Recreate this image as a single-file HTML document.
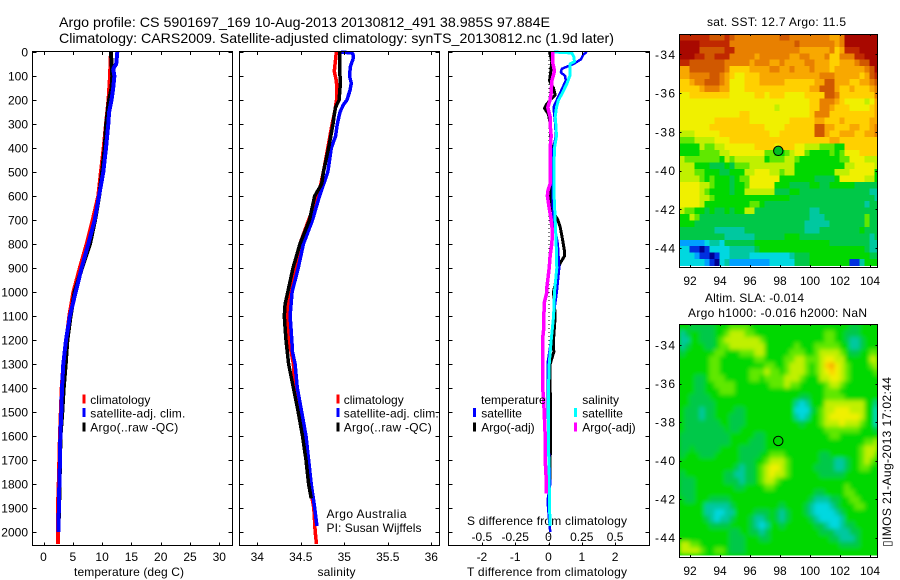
<!DOCTYPE html>
<html lang="en">
<head>
<meta charset="utf-8">
<title>Argo profile 5901697_169</title>
<style>
html,body{margin:0;padding:0;background:#fff;width:900px;height:580px;overflow:hidden}
svg{display:block}
text{font-family:"Liberation Sans",Arial,sans-serif;font-size:12px;fill:#000}
.title{font-size:14px}
.axis-box{fill:none;stroke:#000;stroke-width:1;shape-rendering:crispEdges}
.tick{stroke:#000;stroke-width:1;shape-rendering:crispEdges}
.prof{fill:none;stroke-linejoin:bevel;stroke-linecap:butt;shape-rendering:crispEdges}
.cell{shape-rendering:crispEdges}
</style>
</head>
<body>
<svg id="chart" xmlns="http://www.w3.org/2000/svg" width="900" height="580" viewBox="0 0 900 580">
  <defs>
    <filter id="smooth" x="-5%" y="-5%" width="110%" height="110%"><feGaussianBlur stdDeviation="2.2"/></filter>
    <clipPath id="slaClip"><rect x="679.5" y="324.5" width="198" height="231"/></clipPath>
  </defs>
  <text class="title" x="59" y="27" textLength="491" lengthAdjust="spacingAndGlyphs">Argo profile: CS 5901697_169 10-Aug-2013 20130812_491 38.985S 97.884E</text>
  <text class="title" x="59" y="43" textLength="555" lengthAdjust="spacingAndGlyphs">Climatology: CARS2009. Satellite-adjusted climatology: synTS_20130812.nc (1.9d later)</text>

  <text x="74" y="576" textLength="110">temperature (deg C)</text>
  <text x="317.5" y="576" textLength="38">salinity</text>
  <text x="467" y="576" textLength="160">T difference from climatology</text>
  <text x="467" y="525" textLength="160">S difference from climatology</text>

  <text x="326.5" y="518" textLength="80">Argo Australia</text>
  <text x="326.5" y="532" textLength="95">PI: Susan Wijffels</text>

  <text x="707" y="26" textLength="139">sat. SST: 12.7 Argo: 11.5</text>
  <text x="705" y="302" textLength="99">Altim. SLA: -0.014</text>
  <text x="688" y="317" textLength="179">Argo h1000: -0.016 h2000: NaN</text>
  <text transform="translate(891,547) rotate(-90)" textLength="170">▯IMOS 21-Aug-2013 17:02:44</text>
</svg>
<script>
// ---------- axis tick labels ----------
const depthTicks = [0,100,200,300,400,500,600,700,800,900,1000,1100,1200,1300,1400,1500,1600,1700,1800,1900,2000];
const tempTicks = [0,5,10,15,20,25,30];
const salTicks = [34,34.5,35,35.5,36];
const salTickLabels = ['34','34.5','35','35.5','36'];
const tDiffTicks = [-2,-1,0,1,2];
const sDiffTicks = [-0.5,-0.25,0,0.25,0.5];
const sDiffTickLabels = ['-0.5','-0.25','0','0.25','0.5'];
const lonTicks = [92,94,96,98,100,102,104];
const latTicks = [-34,-36,-38,-40,-42,-44];

// ---------- temperature panel ----------
const climTempDepth = [0,100,200,300,400,500,600,700,800,900,1000,1100,1200,1300,1400,1500,1600,1700,1800,1900,2000,2050];
const climTempValue = [11.5,11.35,11.1,10.66,10.27,9.8,9.35,8.4,7.37,6.2,5.1,4.4,3.9,3.4,3.1,2.95,2.8,2.7,2.6,2.45,2.5,2.5];
const satTempDepth = [0,50,70,100,150,200,250,300,400,500,600,700,800,900,1000,1100,1200,1300,1400,1500,1600,1700,1800,1900,1950,2000];
const satTempValue = [12.6,12.4,11.9,12.1,11.9,11.6,11.2,11.06,10.66,10.2,9.47,8.73,7.65,6.5,5.5,4.5,3.84,3.38,3.16,3.04,2.87,2.82,2.7,2.65,2.55,2.53];
const argoTempDepth = [0,100,150,200,300,400,500,600,700,800,900,1000,1100,1200,1300,1400,1500,1600,1900,1950];
const argoTempValue = [11.5,11.74,11.6,11.18,10.7,10.44,10.0,9.5,8.8,7.93,6.57,5.3,4.63,4.07,3.78,3.44,3.2,2.9,2.66,2.6];

// ---------- salinity panel ----------
const climSalDepth = [0,30,80,120,150,200,250,300,400,500,600,700,800,900,1000,1100,1200,1250,1300,1400,1500,1600,1700,1800,1900,2000,2050];
const climSalValue = [34.908,34.9,34.885,34.908,34.915,34.91,34.89,34.86,34.81,34.76,34.70,34.59,34.49,34.43,34.36,34.35,34.36,34.39,34.415,34.43,34.47,34.54,34.57,34.6,34.65,34.665,34.68];
const satSalDepth = [0,4,10,30,60,100,130,160,200,220,250,300,350,400,500,600,700,800,900,1000,1100,1200,1250,1300,1400,1500,1600,1700,1800,1900,1975];
const satSalValue = [34.96,35.09,35.1,35.1,35.07,35.06,35.08,35.065,35.03,34.99,34.95,34.92,34.9,34.85,34.81,34.715,34.635,34.53,34.47,34.40,34.377,34.396,34.405,34.435,34.46,34.51,34.56,34.59,34.62,34.66,34.685];
const argoSalDepth = [0,20,100,150,200,230,260,300,400,500,550,600,700,800,900,1000,1050,1100,1150,1200,1300,1400,1500,1600,1700,1800,1860];
const argoSalValue = [34.946,34.946,34.95,34.95,34.94,34.9,34.885,34.87,34.82,34.76,34.74,34.66,34.6,34.49,34.41,34.35,34.32,34.31,34.32,34.33,34.36,34.415,34.47,34.52,34.56,34.59,34.62];

// ---------- difference panel (T in deg C, S in psu) ----------
const satTDiffDepth = [0,10,30,50,70,85,100,120,140,170,200,230,300,350,400,500,600,700,800,900,1000,1100,1200,1300,1400,1500,1600,1700,1800,1870,1950,2000];
const satTDiffValue = [1.15,1.05,0.98,0.75,0.4,0.37,0.5,0.52,0.45,0.35,0.25,0.15,0.2,0.22,0.15,0.12,0.12,0.15,0.28,0.32,0.25,0.15,0.08,-0.03,-0.03,-0.02,0,0.02,0.05,-0.03,0.02,0.05];
const argoTDiffDepth = [0,10,40,80,120,150,180,200,220,235,260,300,400,500,550,600,650,700,730,780,830,850,880,900,1000,1100,1200,1250,1300,1400,1500,1600,1700,1800];
const argoTDiffValue = [0.02,0.05,0.1,0.07,0.03,0.15,0.2,0.05,-0.07,-0.12,0,0.05,0.08,0.05,0.07,0.05,0.08,0.28,0.35,0.42,0.48,0.48,0.35,0.3,0.15,0.2,0.15,0.16,0.05,0.05,0.06,0.06,0.05,0.05];
const satSDiffDepth = [0,4,20,40,50,80,100,130,170,200,230,270,300,350,400,500,600,700,800,900,1000,1100,1200,1300,1400,1500,1600,1700,1800,1900,1975];
const satSDiffValue = [0.04,0.175,0.19,0.195,0.16,0.16,0.16,0.14,0.105,0.075,0.06,0.05,0.055,0.06,0.045,0.04,0.042,0.05,0.058,0.062,0.045,0.038,0.02,0.005,0,0,0,0.002,0.005,0.008,0.012];
const argoSDiffDepth = [0,40,80,120,170,200,230,270,300,350,400,500,550,580,600,650,700,750,800,850,900,980,1000,1040,1100,1150,1200,1300,1400,1430,1500,1600,1700,1770,1840];
const argoSDiffValue = [0.032,0.03,0.045,0.025,0.02,0.012,-0.005,0.012,0.012,0.02,0.012,0.012,0.012,-0.005,-0.008,0.005,0.02,0.03,0.025,0.012,0.005,-0.012,-0.012,-0.03,-0.035,-0.035,-0.045,-0.045,-0.045,-0.038,-0.032,-0.025,-0.025,-0.018,-0.015];

// ---------- sea-surface temperature map: one row per latitude band, colour level per cell ----------
const sstGrid = [
[14,14,14,14,14,14,13,13,13,14,13,12,12,12,12,12,12,12,12,12,13,13,12,12,12,12,12,12,12,12,11,11,12,15,15,15,15,15,15,15],
[15,15,15,15,14,14,14,14,14,14,12,12,12,12,12,12,12,12,12,12,12,12,12,13,12,12,12,12,12,12,12,11,12,15,15,15,15,15,15,15],
[15,15,15,15,13,13,13,13,13,14,14,12,12,12,12,12,12,12,12,12,12,12,12,12,11,11,11,11,11,11,12,10,11,14,14,14,15,15,15,15],
[15,15,15,14,14,13,13,14,14,14,12,12,12,12,12,11,12,12,12,12,12,12,11,11,12,12,11,11,11,12,10,10,12,12,12,14,14,15,15,15],
[14,14,13,13,13,13,13,13,13,12,12,12,12,12,11,12,12,12,11,11,12,11,11,11,11,12,12,11,11,11,10,10,11,11,11,12,13,13,15,15],
[11,11,13,13,13,13,13,13,13,12,10,10,10,10,11,11,11,11,12,12,11,11,12,11,11,11,12,11,11,11,10,11,11,11,11,11,11,12,13,15],
[11,11,12,12,12,12,13,13,12,11,10,9,9,10,10,10,11,11,11,11,11,11,11,11,11,11,11,11,12,12,12,11,11,11,11,11,10,11,13,14],
[10,10,11,12,12,13,13,13,12,11,9,9,9,10,10,10,11,11,11,11,11,10,10,10,10,10,10,11,11,13,13,11,11,11,10,10,11,11,12,13],
[10,10,10,10,11,12,12,12,11,11,9,9,9,10,10,10,10,10,10,10,10,10,10,10,10,10,11,11,13,13,13,11,10,10,11,10,10,10,11,12],
[9,9,10,10,10,10,10,10,10,10,9,9,9,9,9,10,10,9,10,10,10,9,9,9,9,10,10,10,10,13,13,12,10,10,10,10,10,10,10,12],
[9,9,9,9,9,9,9,9,9,9,9,9,9,9,9,9,9,9,9,9,9,9,9,9,9,9,10,10,12,12,12,11,10,9,9,9,9,8,9,11],
[9,9,9,9,9,9,9,9,9,9,9,9,9,9,9,9,9,9,9,8,9,9,9,9,9,9,10,10,12,12,11,10,10,10,9,9,9,9,10,11],
[9,9,9,9,9,9,9,9,9,9,9,9,10,10,9,9,9,9,9,9,9,9,9,9,9,9,10,12,12,12,10,10,10,10,10,10,10,10,10,11],
[9,9,9,9,9,9,9,10,10,10,10,10,10,10,9,9,9,9,9,9,9,9,10,10,10,10,10,11,11,10,10,10,11,10,10,10,10,10,11,11],
[9,9,9,9,9,9,10,10,10,10,10,10,10,10,10,10,10,9,9,9,9,10,10,10,10,10,10,13,13,11,11,10,10,10,11,11,10,10,11,12],
[8,8,8,9,9,9,9,9,10,10,10,10,10,10,10,10,10,10,9,9,10,10,10,10,10,10,10,13,13,11,10,10,11,11,11,10,10,11,11,12],
[7,7,7,8,8,8,8,9,9,9,10,10,10,10,10,10,10,10,10,10,10,10,10,10,10,10,10,10,10,10,11,11,10,10,10,10,10,10,10,10],
[6,6,6,6,8,7,7,8,8,9,9,9,9,9,9,10,10,10,10,9,10,10,10,9,9,8,8,8,7,7,7,6,6,10,10,10,10,10,10,10],
[6,6,6,6,7,7,7,7,8,8,9,9,9,9,9,9,9,7,7,6,6,7,8,9,9,7,6,6,6,6,7,6,7,9,9,9,10,10,10,10],
[8,7,7,7,7,7,7,7,6,8,7,8,8,8,8,8,8,6,7,7,7,8,8,7,6,6,6,6,6,6,6,6,7,7,9,9,9,8,8,8],
[8,8,8,6,6,6,5,5,5,6,5,7,7,7,8,8,8,8,8,8,8,8,8,6,6,6,6,6,6,6,6,6,6,8,8,9,9,9,9,8],
[8,8,8,7,7,6,6,6,5,5,6,6,6,8,8,9,9,9,8,8,7,8,8,6,6,6,6,6,6,6,6,8,8,8,9,9,9,9,9,6],
[8,8,8,8,7,6,7,6,6,6,5,6,7,7,9,9,9,9,9,9,6,6,6,6,6,6,6,5,5,5,5,6,9,9,9,9,9,8,8,6],
[9,9,9,9,8,8,7,6,6,6,5,6,6,7,9,9,9,9,9,6,6,6,5,5,5,5,6,6,5,5,6,6,6,6,6,5,5,5,5,5],
[9,9,9,9,8,7,6,6,6,6,5,6,6,8,8,8,8,8,8,5,5,5,6,6,5,5,5,5,5,5,5,5,5,5,5,5,5,5,4,4],
[9,9,9,9,8,8,7,6,6,6,6,6,6,6,6,6,6,6,6,6,6,6,5,5,5,5,5,5,5,5,5,5,5,5,5,5,5,5,5,4],
[9,9,9,9,8,6,6,6,6,6,6,6,6,6,7,7,6,5,5,5,5,5,5,5,5,5,5,5,5,5,5,5,5,5,5,5,5,4,5,5],
[8,7,7,6,6,5,6,5,5,6,5,6,6,8,8,5,5,5,5,5,5,5,5,5,5,5,4,4,5,5,5,5,5,5,5,5,5,5,5,5],
[6,6,8,7,5,5,5,5,5,5,5,5,5,5,5,5,5,5,5,5,5,5,5,5,5,5,4,4,4,5,5,5,5,5,5,5,5,7,5,5],
[6,6,6,5,5,5,5,5,5,5,5,5,5,5,5,5,5,5,5,5,5,5,5,5,5,4,4,4,4,4,5,5,5,5,5,5,5,7,5,5],
[5,5,5,5,5,5,5,4,4,4,4,4,4,5,5,5,5,5,5,5,5,5,5,5,5,4,4,4,5,5,5,5,5,5,5,5,6,5,5,5],
[5,5,5,5,5,5,5,5,5,4,4,4,4,4,4,5,5,5,5,5,5,6,6,6,5,5,5,5,5,5,5,5,5,5,5,5,5,5,4,5],
[2,2,2,2,2,3,4,4,3,5,5,5,5,5,5,6,6,6,6,6,6,6,6,6,6,6,6,6,6,6,5,5,5,5,5,5,5,5,4,4],
[3,3,1,1,0,1,3,3,3,3,4,4,4,4,4,5,6,6,6,6,6,6,6,6,6,6,6,6,6,6,6,6,6,6,6,6,6,5,4,4],
[3,3,3,2,1,1,0,1,3,3,4,4,4,4,3,3,3,3,3,3,3,3,4,5,5,5,6,6,6,6,6,6,6,6,6,6,6,6,5,5],
[3,3,3,3,3,2,1,0,3,4,2,2,2,2,2,2,2,2,3,3,3,3,3,5,5,5,6,6,6,6,6,6,6,6,1,1,4,6,6,6]
];

// ---------- altimeter sea-level-anomaly map ----------
const slaGrid = [
[6,6,5,5,5,5,5,6,6,6,7,7,7,7,6,6,6,6,6,6,6,6,6,6,6,6,6,6,6,6,6,6,6,6,5,5,6,6,6,6],
[4,5,6,6,5,5,5,6,6,7,8,8,8,7,7,6,6,6,6,6,6,6,6,6,6,6,6,6,6,7,7,6,6,5,5,5,6,6,6,6],
[4,4,6,6,5,5,5,6,7,8,8,8,8,8,8,8,7,6,6,6,6,6,6,6,6,6,6,6,6,7,7,6,6,5,4,4,5,6,6,6],
[4,5,6,6,6,5,5,6,7,7,8,8,8,8,8,8,8,6,6,6,6,6,6,7,6,6,6,7,7,7,7,7,6,6,4,4,5,6,6,6],
[5,6,6,6,6,6,6,7,7,6,6,6,7,7,7,8,8,6,6,6,6,6,7,7,7,6,6,7,8,8,8,8,7,6,5,5,6,6,7,7],
[6,6,6,6,6,6,7,7,6,6,6,6,6,6,6,7,7,6,6,6,6,7,7,8,8,7,7,7,8,9,9,8,8,6,6,6,6,6,8,8],
[6,6,6,6,6,6,7,7,6,6,6,6,6,6,6,6,6,7,7,6,6,7,8,8,8,7,6,7,8,10,11,9,8,7,6,6,6,6,7,8],
[6,6,6,6,6,6,7,7,6,6,6,6,6,6,7,7,7,8,7,7,6,7,8,8,8,7,6,7,8,9,10,9,8,7,6,6,6,6,6,7],
[6,6,6,5,5,6,7,7,7,6,6,6,6,6,7,7,6,7,7,7,7,8,8,8,7,6,6,6,8,8,9,9,8,7,6,6,6,6,6,6],
[6,6,6,5,5,6,6,7,7,7,7,6,6,6,6,6,6,6,7,7,7,8,7,7,6,6,6,6,6,7,8,8,7,6,6,6,6,6,6,6],
[6,6,6,5,5,6,6,6,7,7,7,6,6,6,6,6,6,6,6,6,6,6,6,6,6,6,6,6,6,7,7,7,6,6,6,6,6,6,6,6],
[6,6,5,5,5,5,6,6,6,6,6,6,6,6,6,6,6,6,6,6,6,6,6,6,5,5,6,6,6,7,7,7,7,6,6,6,6,6,6,6],
[6,6,5,5,5,5,5,6,6,6,6,6,6,6,6,6,6,6,6,6,6,6,6,4,3,4,6,6,6,8,8,8,8,8,8,8,8,6,6,4],
[6,5,5,5,4,5,5,6,6,6,6,5,5,6,6,6,6,6,6,6,6,6,6,3,3,3,5,6,7,8,8,9,9,9,8,8,8,6,6,3],
[6,5,5,5,4,5,5,6,6,6,5,5,5,6,6,6,6,6,6,6,6,6,6,4,3,4,6,6,7,8,9,9,9,9,9,9,8,6,6,3],
[6,5,5,5,5,5,5,5,6,6,5,5,5,6,6,6,6,6,6,6,6,6,6,6,5,6,6,6,7,8,8,8,9,8,8,8,7,6,6,3],
[6,5,5,5,5,5,5,5,5,6,5,5,6,6,6,6,6,6,6,6,6,6,6,6,6,6,6,6,6,7,7,7,7,7,7,7,6,6,6,5],
[5,5,5,5,5,5,5,5,5,5,6,6,6,6,6,5,5,6,6,6,6,6,6,6,6,6,6,6,6,6,7,7,6,6,6,6,6,6,6,6],
[5,5,5,5,5,5,5,5,5,5,6,6,6,6,5,5,5,6,6,6,6,6,6,6,6,6,6,6,6,6,6,6,6,6,6,6,6,7,7,8],
[5,5,6,5,5,5,5,5,6,6,6,6,5,5,5,5,5,6,6,6,6,6,6,6,6,6,6,6,6,6,6,6,6,6,6,6,7,8,8,8],
[5,6,6,6,5,5,5,6,6,6,6,6,5,5,5,5,6,6,7,7,7,6,6,6,6,6,6,6,5,5,6,6,6,6,6,6,7,8,8,7],
[6,6,6,6,6,6,6,6,6,6,6,6,5,5,5,6,6,7,8,8,8,7,6,6,6,6,6,6,5,5,5,4,4,5,6,6,7,8,7,6],
[6,6,6,6,6,6,6,6,6,6,6,5,4,5,5,6,7,8,9,9,8,7,6,6,6,6,6,5,5,5,5,4,4,5,6,6,7,7,6,6],
[5,6,6,6,6,6,6,6,6,5,5,4,4,5,5,6,7,8,9,8,8,7,6,6,6,6,6,6,5,5,5,5,5,6,6,6,6,6,6,6],
[5,5,5,6,6,6,6,6,6,5,5,5,4,5,5,6,7,8,8,7,6,6,6,6,6,6,6,6,6,6,6,6,6,6,6,6,6,6,6,6],
[5,5,5,6,6,6,6,6,6,6,6,5,5,6,6,6,6,7,7,6,6,6,6,6,6,6,6,6,6,6,6,6,6,7,6,6,6,6,6,6],
[5,5,5,6,6,6,6,6,6,6,6,6,6,6,6,6,6,6,6,6,6,6,6,6,6,6,6,5,5,6,6,6,6,7,7,6,6,6,6,6],
[6,5,5,6,6,6,5,5,5,5,6,6,6,6,6,6,6,6,6,6,6,6,6,6,6,6,5,4,4,4,5,5,6,6,7,7,6,6,6,6],
[6,6,6,6,6,4,4,4,4,4,5,6,6,6,6,6,6,6,6,6,5,6,6,6,6,5,4,3,3,3,4,5,6,6,6,7,7,6,6,6],
[6,6,6,6,6,4,4,3,3,4,4,6,6,6,6,5,5,5,6,5,4,5,6,6,6,5,4,3,3,3,3,4,5,6,6,6,6,6,6,6],
[6,6,6,6,6,5,4,3,4,4,5,6,6,6,5,4,4,5,6,5,4,5,6,6,6,6,5,4,3,3,3,3,4,6,6,6,6,6,6,6],
[6,6,6,6,6,6,5,5,5,5,6,6,6,6,5,4,3,4,6,6,5,6,6,6,6,6,6,5,5,4,3,3,4,5,5,6,6,6,6,6],
[6,6,6,6,6,6,6,6,6,6,5,5,6,6,5,5,4,5,6,6,6,6,6,6,6,6,6,6,5,5,5,4,4,4,5,5,6,6,6,6],
[6,6,6,6,6,6,6,6,6,6,5,5,5,6,6,6,5,5,6,6,6,6,6,6,6,6,6,6,6,6,5,5,4,4,4,5,6,6,6,6],
[8,8,7,7,6,6,6,6,6,6,5,5,5,6,6,6,6,6,6,6,6,6,6,6,6,6,6,6,6,6,6,6,5,5,5,5,6,6,6,6],
[8,8,8,8,7,6,6,7,7,6,5,5,5,6,6,6,6,6,6,6,6,6,6,6,6,6,6,6,6,6,6,6,6,6,6,6,6,6,6,6]
];
const argoLon = 97.884;
const argoLat = -38.985;

// ---------- drawing ----------
const NS = 'http://www.w3.org/2000/svg';
const svg = document.getElementById('chart');
const levelColors = ['#000090','#0030e0','#00a0ff','#00d8e0','#00c8a0','#00c848','#00d800','#60e800','#c0f000','#f0f000','#ffd000','#f8a800','#e88000','#d05800','#c02800','#a80800'];

const depthY = d => 52 + 0.24 * d;
const tempX = v => 43.5 + 5.86 * v;
const salX = v => 257.3 + 87 * (v - 34);
const tDiffX = v => 548.5 + 33.3 * v;
const sDiffX = v => 548.5 + 133.2 * v;

function node(tag, name, attrs, parent) {
  const el = document.createElementNS(NS, tag);
  
  
  for (const k in attrs) el.setAttribute(k, attrs[k]);
  (parent || svg).appendChild(el);
  return el;
}
function label(name, str, x, y, anchor) {
  const t = node('text', name, {x: x, y: y, 'text-anchor': anchor || 'start'});
  t.textContent = str;
  return t;
}
function line(name, x1, y1, x2, y2) {
  return node('line', name, {x1: x1, y1: y1, x2: x2, y2: y2, class: 'tick'});
}
function profile(name, depths, values, xScale, color, width) {
  const pts = depths.map((d, i) => xScale(values[i]).toFixed(1) + ',' + depthY(d).toFixed(1)).join(' ');
  return node('polyline', name, {points: pts, class: 'prof', stroke: color, 'stroke-width': width});
}
function legendBar(name, x, y, h, color) {
  return node('rect', name, {x: x, y: y, width: 3, height: h, fill: color, class: 'cell'});
}

function profileAxes(prefix, left, right, xs, xLabels, tickScale) {
  const top = 52, bottom = 545.5;
  xs.forEach((v, i) => {
    const x = Math.round(tickScale(v)) + 0.5;
    line(prefix + '-top-tick', x, top, x, top + 3);
    line(prefix + '-bottom-tick', x, bottom, x, bottom - 3);
    if (xLabels) label(prefix + '-x-label', xLabels[i], tickScale(v), 561, 'middle');
  });
  depthTicks.forEach(d => {
    const y = Math.round(depthY(d)) + 0.5;
    line(prefix + '-left-tick', left, y, left + 4, y);
    line(prefix + '-right-tick', right, y, right - 4, y);
  });
  node('rect', prefix + '-frame', {x: left, y: top - 0.5, width: right - left, height: bottom - top + 0.5, class: 'axis-box'});
}

// Temperature panel
profile('climatology-temperature-line', climTempDepth, climTempValue, tempX, '#ff0000', 4);
profile('argo-temperature-line', argoTempDepth, argoTempValue, tempX, '#000000', 4);
profile('satellite-temperature-line', satTempDepth, satTempValue, tempX, '#0000ff', 4);
profileAxes('temperature-axis', 32.5, 232.5, tempTicks, tempTicks.map(String), tempX);
depthTicks.forEach(d => {
  label('depth-label', String(d), 28, depthY(d) + 4.5, 'end');
});

// Salinity panel
profile('climatology-salinity-line', climSalDepth, climSalValue, salX, '#ff0000', 3.5);
profile('satellite-salinity-line', satSalDepth, satSalValue, salX, '#0000ff', 3.5);
profile('argo-salinity-line', argoSalDepth, argoSalValue, salX, '#000000', 3.5);
profileAxes('salinity-axis', 239.5, 439.5, salTicks, salTickLabels, salX);

// Difference panel
node('line', 'zero-difference-line', {x1: 549, y1: 52, x2: 549, y2: 545, stroke: '#000', 'stroke-width': 1, 'stroke-dasharray': '1 3', class: 'cell'});
profile('argo-t-difference-line', argoTDiffDepth, argoTDiffValue, tDiffX, '#000000', 3);
profile('satellite-t-difference-line', satTDiffDepth, satTDiffValue, tDiffX, '#0000ff', 2.5);
profile('satellite-s-difference-line', satSDiffDepth, satSDiffValue, sDiffX, '#00ffff', 3);
profile('argo-s-difference-line', argoSDiffDepth, argoSDiffValue, sDiffX, '#ff00ff', 3.5);
profileAxes('difference-axis', 448.5, 649.5, tDiffTicks, tDiffTicks.map(String), tDiffX);
sDiffTicks.forEach((v, i) => {
  label('s-difference-label', sDiffTickLabels[i], sDiffX(v), 541, 'middle');
});

// Legends
legendBar('legend-swatch-climatology', 82.7, 394.5, 9, '#ff0000');
legendBar('legend-swatch-satellite', 82.7, 408, 9, '#0000ff');
legendBar('legend-swatch-argo', 82.7, 422.5, 9, '#000000');
label('legend-entry-climatology', 'climatology', 90.3, 404);
label('legend-entry-satellite', 'satellite-adj. clim.', 90.3, 417.5).setAttribute('textLength', '95');
label('legend-entry-argo', 'Argo(..raw -QC)', 90.3, 431.5).setAttribute('textLength', '88');

legendBar('salinity-legend-swatch-climatology', 336.7, 394.5, 9, '#ff0000');
legendBar('salinity-legend-swatch-satellite', 336.7, 408, 9, '#0000ff');
legendBar('salinity-legend-swatch-argo', 336.7, 422.5, 9, '#000000');
label('salinity-legend-entry-climatology', 'climatology', 343.7, 404);
label('salinity-legend-entry-satellite', 'satellite-adj. clim.', 343.7, 417.5).setAttribute('textLength', '95');
label('salinity-legend-entry-argo', 'Argo(..raw -QC)', 343.7, 431.5).setAttribute('textLength', '88');

label('difference-legend-heading-temperature', 'temperature', 481, 404);
label('difference-legend-heading-salinity', 'salinity', 582.3, 404);
legendBar('difference-legend-swatch-t-satellite', 473, 408, 9, '#0000ff');
legendBar('difference-legend-swatch-t-argo', 473, 422.5, 9, '#000000');
legendBar('difference-legend-swatch-s-satellite', 574, 408, 9, '#00ffff');
legendBar('difference-legend-swatch-s-argo', 574, 422.5, 9, '#ff00ff');
label('difference-legend-entry-t-satellite', 'satellite', 481.3, 417.5);
label('difference-legend-entry-t-argo', 'Argo(-adj)', 481.3, 431.5);
label('difference-legend-entry-s-satellite', 'satellite', 582.3, 417.5);
label('difference-legend-entry-s-argo', 'Argo(-adj)', 582.3, 431.5);

// Maps
function drawMap(prefix, grid, top, lat34Y, pxPerDeg, lowerLabelY, markerFill, smooth) {
  const lonX = lon => 690 + 15 * (lon - 92);
  const latY = lat => lat34Y + pxPerDeg * (-34 - lat);
  const left = 679.5, right = 877.5, bottom = top + 233;
  const lon0 = 91.287;
  const lat0 = -34 + (lat34Y - top) / pxPerDeg;
  const clip = node('g', prefix + '-clip-group', {});
  if (smooth) {
    clip.setAttribute('clip-path', 'url(#slaClip)');
    node('rect', prefix + '-background', {x: left, y: top, width: right - left, height: bottom - top, fill: levelColors[6]}, clip);
  }
  const g = node('g', prefix + '-heatmap', {}, clip);
  if (smooth) g.setAttribute('filter', 'url(#smooth)');
  grid.forEach((row, r) => {
    row.forEach((level, c) => {
      const x1 = lonX(lon0 + c / 3);
      const x2 = lonX(lon0 + (c + 1) / 3);
      const y1 = latY(lat0 - r * 0.332);
      const y2 = latY(lat0 - (r + 1) * 0.332);
      const rect = document.createElementNS(NS, 'rect');
      
      
      rect.setAttribute('class', 'cell');
      rect.setAttribute('x', x1.toFixed(2));
      rect.setAttribute('y', y1.toFixed(2));
      rect.setAttribute('width', (Math.min(x2, right) - x1 + 0.3).toFixed(2));
      rect.setAttribute('height', (y2 - y1 + 0.3).toFixed(2));
      rect.setAttribute('fill', levelColors[level]);
      g.appendChild(rect);
    });
  });
  node('rect', prefix + '-frame', {x: left, y: top + 0.5, width: right - left, height: bottom - top, class: 'axis-box'});
  lonTicks.forEach(v => {
    const x = Math.round(lonX(v)) + 0.5;
    line(prefix + '-top-tick', x, top, x, top + 2);
    line(prefix + '-bottom-tick', x, bottom, x, bottom - 2);
    label(prefix + '-lon-label', String(v), lonX(v), lowerLabelY, 'middle');
  });
  latTicks.forEach(v => {
    const y = Math.round(latY(v)) + 0.5;
    line(prefix + '-left-tick', left, y, left + 2, y);
    line(prefix + '-right-tick', right, y, right - 2, y);
    label(prefix + '-lat-label', String(v), 655, latY(v) + 4.5).setAttribute('textLength', '20');
  });
  node('circle', prefix + '-argo-marker', {cx: lonX(argoLon), cy: latY(argoLat), r: 4.7, fill: markerFill, stroke: '#000', 'stroke-width': 1});
}
drawMap('sst-map', sstGrid, 34, 54.3, 19.37, 285, '#00c020', false);
drawMap('sla-map', slaGrid, 324, 345, 19.25, 575, 'none', true);
</script>
</body>
</html>
